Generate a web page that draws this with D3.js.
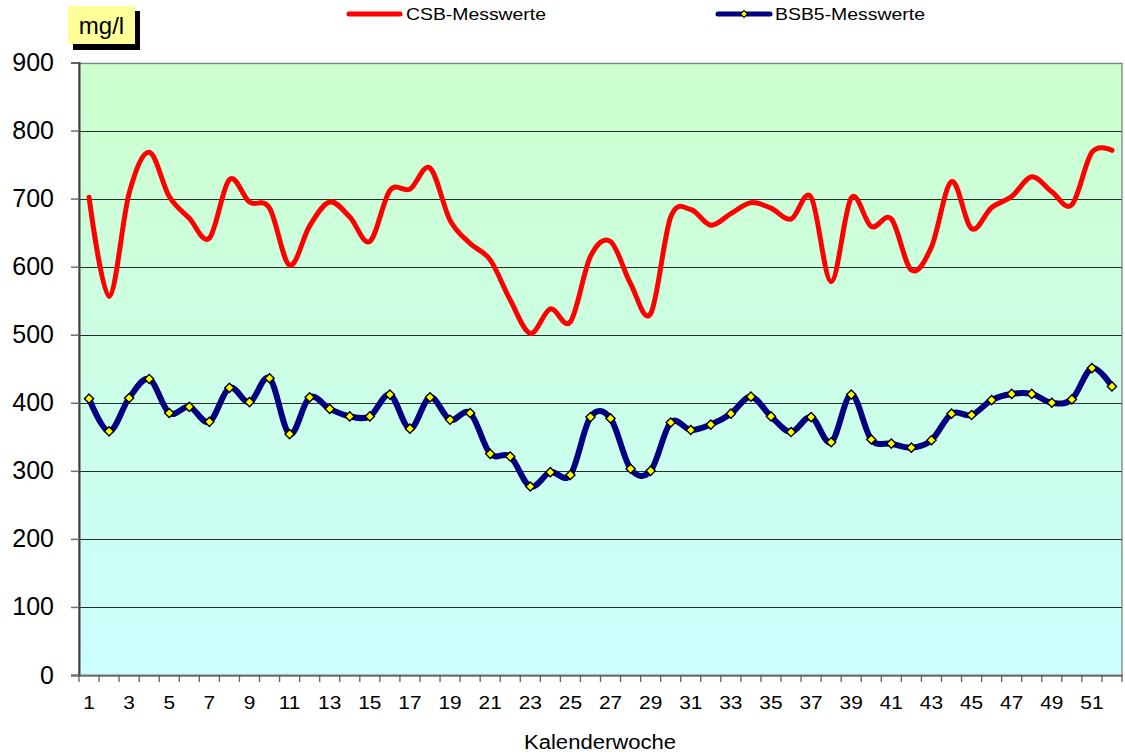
<!DOCTYPE html>
<html><head><meta charset="utf-8">
<script src="https://cdn.jsdelivr.net/npm/d3@7"></script>
<style>body{margin:0;background:#fff}svg{display:block;font-family:"Liberation Sans",Arial,sans-serif}</style>
</head><body>
<svg id="c" width="1125" height="755"></svg>
<script>
const weeks = d3.range(1, 53);
const csb = [702,556,708,768,703,671,642,728,695,686,602,660,695,673,637,712,714,745,668,634,610,551,502,538,519,615,637,575,531,673,684,661,678,694,686,670,702,578,701,659,670,595,629,725,656,687,703,732,710,691,768,771];
const bsb = [406,358,407,435,385,394,372,422,401,436,354,408,391,380,380,412,362,408,375,385,325,321,277,298,294,379,377,303,300,371,360,368,384,409,380,357,379,342,412,346,340,334,345,384,382,404,413,413,400,405,451,424];
const yTicks = d3.range(0, 1000, 100);
const xTickLabels = weeks.filter(w => w % 2 === 1);
const unitLabel = "mg/l";
const xTitle = "Kalenderwoche";
const seriesNames = ["CSB-Messwerte", "BSB5-Messwerte"];

const svg = d3.select("#c");
const L = 79, R = 1122, T = 62.5, B = 675;
const x = d3.scaleBand().domain(weeks).range([L, R]);
const y = d3.scaleLinear().domain([0, 900]).range([B, T]);

const defs = svg.append("defs");
const g = defs.append("linearGradient").attr("id","bg").attr("x1",0).attr("y1",0).attr("x2",0).attr("y2",1);
g.append("stop").attr("offset","0%").attr("stop-color","#ccffcc");
g.append("stop").attr("offset","100%").attr("stop-color","#ccffff");
defs.append("clipPath").attr("id","clip").append("rect").attr("x",L).attr("y",T).attr("width",R-L).attr("height",B-T);

svg.append("rect").attr("x",L).attr("y",T).attr("width",R-L).attr("height",B-T).attr("fill","url(#bg)");

// gridlines
svg.append("g").selectAll("line").data(yTicks.filter(v=>v>0 && v<900)).join("line")
  .attr("x1",L).attr("x2",R).attr("y1",d=>Math.round(y(d))+0.5).attr("y2",d=>Math.round(y(d))+0.5)
  .attr("stroke","#2a2a2a").attr("stroke-width",1);
// border
svg.append("rect").attr("x",L).attr("y",Math.round(T)+0.5).attr("width",R-L).attr("height",B-T)
  .attr("fill","none").attr("stroke","#808080").attr("stroke-width",1.3);

// y axis
const ya = svg.append("g").attr("transform",`translate(${L},0)`)
  .call(d3.axisLeft(y).tickValues(yTicks).tickSize(8).tickPadding(17).tickFormat(d3.format("d")));
ya.select(".domain").attr("stroke","#404040").attr("stroke-width",2);
ya.selectAll(".tick line").attr("stroke","#707070").attr("stroke-width",1.5);
ya.selectAll("text").attr("font-size",25).attr("fill","#000").attr("font-family","Liberation Sans, Arial, sans-serif");

// x axis
const xa = svg.append("g").attr("transform",`translate(0,${B})`)
  .call(d3.axisBottom(x).tickValues(xTickLabels).tickSize(0).tickPadding(21));
xa.select(".domain").attr("stroke","#707070").attr("stroke-width",2);
xa.selectAll("text").attr("font-size",18.5).attr("fill","#000").attr("font-family","Liberation Sans, Arial, sans-serif")
  .attr("transform","scale(1.13,1)");
// x tick marks at band boundaries
svg.append("g").selectAll("line").data(weeks.concat([53])).join("line")
  .attr("x1",d=>x.step()*(d-1)+L).attr("x2",d=>x.step()*(d-1)+L)
  .attr("y1",B).attr("y2",B+7).attr("stroke","#606060").attr("stroke-width",1.3);

const cx = d => x(d) + x.bandwidth()/2;
const line = d3.line().curve(d3.curveCardinal.tension(0)).x((d,i)=>cx(weeks[i])).y(d=>y(d));

const plot = svg.append("g").attr("clip-path","url(#clip)");
plot.append("path").attr("d",line(csb)).attr("fill","none").attr("stroke","#ff0000").attr("stroke-width",5).attr("stroke-linecap","round");
plot.append("path").attr("d",line(bsb)).attr("fill","none").attr("stroke","#000080").attr("stroke-width",6).attr("stroke-linecap","round");

const marker = d3.symbol().type(d3.symbolSquare).size(42);
svg.append("g").selectAll("path").data(bsb).join("path")
  .attr("transform",(d,i)=>`translate(${cx(weeks[i])},${y(d)}) rotate(45)`)
  .attr("d",marker).attr("fill","#ffff00").attr("stroke","#000").attr("stroke-width",1.4);

// unit label box
svg.append("rect").attr("x",73).attr("y",11).attr("width",67).attr("height",39).attr("fill","#000");
svg.append("rect").attr("x",68).attr("y",6).attr("width",67).attr("height",38).attr("fill","#ffff99");
svg.append("text").attr("x",101.5).attr("y",34).attr("text-anchor","middle").attr("font-size",24).text(unitLabel);

// x title
svg.append("text").attr("x",600).attr("y",749).attr("text-anchor","middle").attr("font-size",19.5)
  .attr("textLength",152).attr("lengthAdjust","spacingAndGlyphs").text(xTitle);

// legend
const lg = svg.append("g");
lg.append("line").attr("x1",349).attr("x2",400).attr("y1",14).attr("y2",14).attr("stroke","#ff0000").attr("stroke-width",5).attr("stroke-linecap","round");
lg.append("text").attr("x",406).attr("y",20).attr("font-size",17).attr("textLength",140).attr("lengthAdjust","spacingAndGlyphs").text(seriesNames[0]);
lg.append("line").attr("x1",718).attr("x2",770).attr("y1",14).attr("y2",14).attr("stroke","#000080").attr("stroke-width",5).attr("stroke-linecap","round");
lg.append("path").attr("transform","translate(744,14) rotate(45)").attr("d",d3.symbol().type(d3.symbolSquare).size(24)).attr("fill","#ffff00").attr("stroke","#000").attr("stroke-width",1);
lg.append("text").attr("x",775).attr("y",20).attr("font-size",17).attr("textLength",150).attr("lengthAdjust","spacingAndGlyphs").text(seriesNames[1]);
</script>
</body></html>
